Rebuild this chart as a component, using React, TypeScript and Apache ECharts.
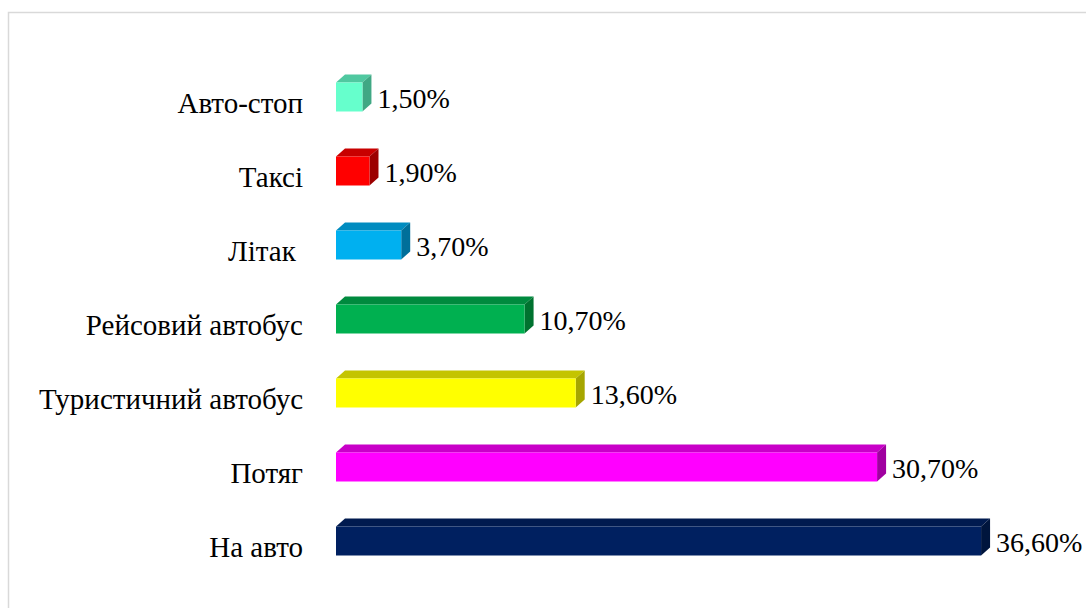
import React, { useEffect, useRef } from "react";
import * as echarts from "echarts";

// bottom to top
const categories = ["На авто", "Потяг", "Туристичний автобус", "Рейсовий автобус", "Літак ", "Таксі", "Авто-стоп"];
const values = [36.6, 30.7, 13.6, 10.7, 3.7, 1.9, 1.5];
const valueLabels = ["36,60%", "30,70%", "13,60%", "10,70%", "3,70%", "1,90%", "1,50%"];
const frontColors = ["#002060", "#ff00ff", "#ffff00", "#00b050", "#00b0f0", "#ff0000", "#66ffcc"];
const topColors = ["#001a4f", "#c800c8", "#c4c400", "#008a3e", "#008cc0", "#c80000", "#50c8a0"];
const sideColors = ["#00153d", "#a000a0", "#a6a600", "#00722f", "#006f9a", "#9c0000", "#40a884"];

const FONT = "Liberation Serif";
const FS = 28;

export default function App() {
  const ref = useRef<HTMLDivElement>(null);
  useEffect(() => {
    if (!ref.current) return;
    const chart = echarts.init(ref.current, undefined, { renderer: "svg" });
    const dx = 9;
    const dy = 8;
    const h = 29;
    const lift = 6;
    chart.setOption({
      animation: false,
      backgroundColor: "#ffffff",
      graphic: [
        {
          type: "rect",
          shape: { x: 8.5, y: 12.5, width: 1100, height: 620 },
          style: { fill: "none", stroke: "#d9d9d9", lineWidth: 1.5 },
          silent: true,
          z: 0,
        },
      ],
      grid: { left: 336, right: 45, top: 66, bottom: 24 },
      xAxis: { type: "value", min: 0, max: 40, show: false, splitLine: { show: false } },
      yAxis: {
        type: "category",
        data: categories,
        axisLine: { show: false },
        axisTick: { show: false },
        axisLabel: { color: "#000", fontSize: 29, fontFamily: FONT, margin: 33 },
      },
      series: [
        {
          type: "custom",
          encode: { x: 0, y: 1 },
          data: values.map((v, i) => [v, i]),
          renderItem: (params: any, api: any) => {
            const v = api.value(0);
            const c = api.value(1);
            const i = params.dataIndex;
            const p0 = api.coord([0, c]);
            const p1 = api.coord([v, c]);
            const x0 = p0[0];
            const x1 = p1[0];
            const cy = p0[1] - lift;
            const yT = cy - h / 2;
            const yB = cy + h / 2;
            return {
              type: "group",
              children: [
                {
                  type: "polygon",
                  shape: { points: [[x0, yT], [x0 + dx, yT - dy], [x1 + dx, yT - dy], [x1, yT]] },
                  style: { fill: topColors[i] },
                },
                {
                  type: "polygon",
                  shape: { points: [[x1, yT], [x1 + dx, yT - dy], [x1 + dx, yB - dy], [x1, yB]] },
                  style: { fill: sideColors[i] },
                },
                {
                  type: "rect",
                  shape: { x: x0, y: yT, width: x1 - x0, height: h },
                  style: { fill: frontColors[i] },
                },
                {
                  type: "text",
                  style: {
                    text: valueLabels[i],
                    x: x1 + dx + 6,
                    y: cy + 1,
                    verticalAlign: "middle",
                    align: "left",
                    fill: "#000",
                    fontSize: FS,
                    fontFamily: FONT,
                  },
                },
              ],
            };
          },
        },
      ],
    });
    return () => chart.dispose();
  }, []);
  return (
    <div
      ref={ref}
      style={{ position: "fixed", left: 0, top: 0, width: 1086, height: 608 }}
    />
  );
}
